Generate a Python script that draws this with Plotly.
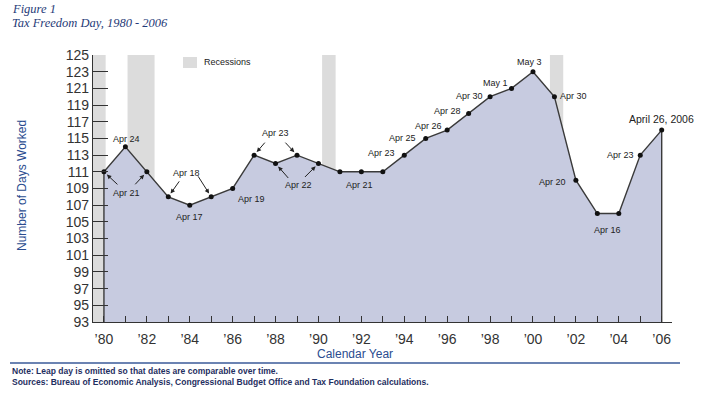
import plotly.graph_objects as go

years = list(range(1980, 2007))
days_worked = [111, 114, 111, 108, 107, 108, 109, 113, 112, 113, 112, 111, 111, 111,
               113, 115, 116, 118, 120, 121, 123, 120, 110, 106, 106, 113, 116]
recessions = [(1979.4, 1980.08), (1981.1, 1982.36), (1990.17, 1990.8), (2000.79, 2001.41)]
y_ticks = list(range(93, 126, 2))
x_tick_labels = [("\u2019%02d" % (y % 100)) if y % 2 == 0 else "" for y in years]

# date labels: (text, x, y)
labels = [
    ("Apr 24", 1981.04, 114.93), ("Apr 21", 1981.04, 108.5), ("Apr 18", 1983.84, 110.82),
    ("Apr 17", 1984.0, 105.62), ("Apr 19", 1986.9, 107.7), ("Apr 23", 1987.99, 115.69),
    ("Apr 22", 1989.08, 109.42), ("Apr 21", 1991.93, 109.42), ("Apr 23", 1992.94, 113.22),
    ("Apr 25", 1993.92, 115.02), ("Apr 26", 1995.11, 116.49), ("Apr 28", 1996.02, 118.32),
    ("Apr 30", 1997.06, 120.12), ("May 1", 1998.26, 121.6), ("May 3", 1999.86, 124.2),
    ("Apr 30", 2001.91, 120.12), ("Apr 20", 2000.9, 109.82), ("Apr 16", 2003.46, 104.03),
    ("Apr 23", 2004.09, 113.02),
]
# arrows: (year index, ax px, ay px)
arrows = [(0, 15, 14), (2, -13, 14), (3, 12, -17), (5, -14, -22),
          (7, 12, -14), (9, -13, -14), (8, 14, 16), (10, -15, 15)]

Y0, Y1 = 93, 125
X0, X1 = 1979.49, 2006.48

fig = go.Figure()
fig.add_trace(go.Scatter(
    x=[years[0]] + years + [years[-1]],
    y=[Y0] + days_worked + [Y0],
    fill="toself", fillcolor="#C7CBE0",
    line=dict(color="#3a3a3a", width=1.4),
    mode="lines", hoverinfo="skip", showlegend=False))
fig.add_trace(go.Scatter(
    x=years, y=days_worked, mode="markers",
    marker=dict(color="#111111", size=5), showlegend=False))

for a, b in recessions:
    fig.add_shape(type="rect", xref="x", yref="y", x0=max(a, X0), x1=b, y0=Y0, y1=Y1,
                  fillcolor="#DCDCDC", line=dict(width=0), layer="below")

sans = "Liberation Sans, Arial"
lab_font = dict(family=sans, size=9, color="#222222")
for t, x, y in labels:
    fig.add_annotation(x=x, y=y, text=t, showarrow=False, font=lab_font,
                       xanchor="center", yanchor="middle")
fig.add_annotation(x=2006.0, y=117.33, text="April 26, 2006", showarrow=False,
                   font=dict(family=sans, size=10.5, color="#222222"),
                   xanchor="center", yanchor="middle")
for i, ax, ay in arrows:
    fig.add_annotation(x=years[i], y=days_worked[i], ax=ax, ay=ay, text="",
                       showarrow=True, arrowhead=2, arrowsize=0.9, arrowwidth=1,
                       arrowcolor="#222222", standoff=4)

# legend
fig.add_shape(type="rect", xref="paper", yref="paper",
              x0=(183 - 93) / 579, x1=(197 - 93) / 579,
              y0=(322 - 68) / 267, y1=(322 - 57) / 267,
              fillcolor="#DCDCDC", line=dict(width=0))
fig.add_annotation(xref="paper", yref="paper", x=(202 - 93) / 579, y=(322 - 62) / 267,
                   text="Recessions", showarrow=False, xanchor="left", yanchor="middle",
                   font=dict(family=sans, size=9, color="#222222"))

# titles
title_font = dict(family="Liberation Serif, Times New Roman", size=12.5, color="#1F3B78")
fig.add_annotation(xref="paper", yref="paper", x=(10 - 93) / 579, y=(322 - 9) / 267,
                   text="<i>Figure 1</i>", showarrow=False, xanchor="left", yanchor="middle", font=title_font)
fig.add_annotation(xref="paper", yref="paper", x=(10 - 93) / 579, y=(322 - 22.5) / 267,
                   text="<i>Tax Freedom Day, 1980 - 2006</i>", showarrow=False, xanchor="left",
                   yanchor="middle", font=title_font)

axis_title_font = dict(family=sans, size=12, color="#2A4C8F")
fig.add_annotation(xref="paper", yref="paper", x=(22 - 93) / 579, y=(322 - 186) / 267,
                   text="Number of Days Worked", textangle=-90, showarrow=False,
                   xanchor="center", yanchor="middle", font=axis_title_font)
fig.add_annotation(xref="paper", yref="paper", x=(355 - 93) / 579, y=(322 - 354) / 267,
                   text="Calendar Year", showarrow=False,
                   xanchor="center", yanchor="middle", font=axis_title_font)

# footer
fig.add_shape(type="line", xref="paper", yref="paper",
              x0=(10 - 93) / 579, x1=(680 - 93) / 579, y0=(322 - 363) / 267, y1=(322 - 363) / 267,
              line=dict(color="#3A5A98", width=1.5))
note_font = dict(family=sans, size=8.5, color="#1F2F5F")
fig.add_annotation(xref="paper", yref="paper", x=(10 - 93) / 579, y=(322 - 371) / 267,
                   text="<b>Note: Leap day is omitted so that dates are comparable over time.</b>",
                   showarrow=False, xanchor="left", yanchor="middle", font=note_font)
fig.add_annotation(xref="paper", yref="paper", x=(10 - 93) / 579, y=(322 - 382) / 267,
                   text="<b>Sources: Bureau of Economic Analysis, Congressional Budget Office and Tax Foundation calculations.</b>",
                   showarrow=False, xanchor="left", yanchor="middle", font=note_font)

fig.update_xaxes(range=[X0, X1], tickvals=years, ticktext=x_tick_labels,
                 ticks="inside", ticklen=6, tickcolor="#333333", tickwidth=1,
                 showline=True, linecolor="#333333", linewidth=1.2, showgrid=False, zeroline=False,
                 tickfont=dict(family=sans, size=14, color="#333333"),
                 ticklabelstandoff=4)
fig.update_yaxes(range=[Y0, Y1], tickvals=y_ticks,
                 ticks="inside", ticklen=15, tickcolor="#333333", tickwidth=1,
                 showline=True, linecolor="#333333", linewidth=1.2, showgrid=False, zeroline=False,
                 tickfont=dict(family=sans, size=14, color="#333333"))

fig.update_layout(width=705, height=394, margin=dict(l=93, r=33, t=55, b=72),
                  plot_bgcolor="white", paper_bgcolor="white", showlegend=False)

# remove the default 8px page margin so the figure sits at the window's top-left corner
fig.write_html("out.html", config={"displayModeBar": False},
               post_script="document.body.style.margin='0';")
